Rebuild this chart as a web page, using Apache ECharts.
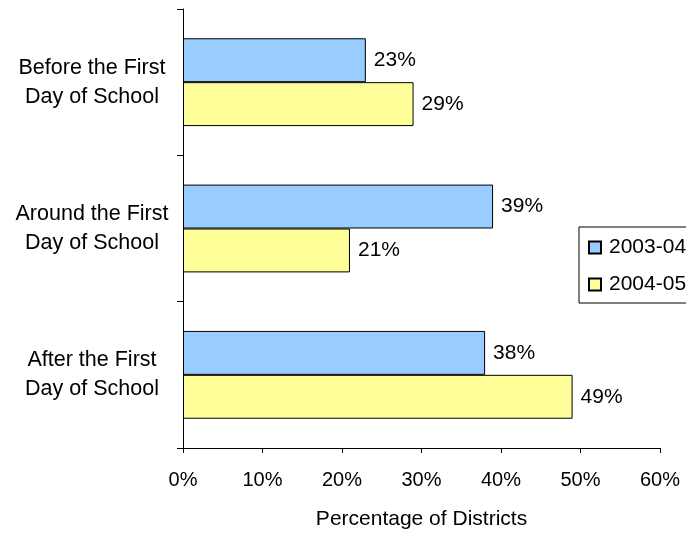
<!DOCTYPE html>
<html>
<head>
<meta charset="utf-8">
<script src="https://cdn.jsdelivr.net/npm/echarts@6/dist/echarts.min.js"></script>
<style>
html,body{margin:0;padding:0;background:#fff;}
#chart{width:686px;height:535px;}
</style>
</head>
<body>
<div id="chart"></div>
<script>
const categories = ['Before the First\nDay of School', 'Around the First\nDay of School', 'After the First\nDay of School'];
const seriesNames = ['2003-04', '2004-05'];
const values2003 = [23, 39, 38];
const values2004 = [29, 21, 49];
const axisTitle = 'Percentage of Districts';

const FONT = '"Liberation Sans", Arial, sans-serif';
const chart = echarts.init(document.getElementById('chart'), null, {renderer: 'canvas'});
const labelCfg = {
  show: true, position: 'right', distance: 8, formatter: '{c}%',
  color: '#000', fontSize: 21, fontFamily: FONT
};
chart.setOption({
  animation: false,
  backgroundColor: '#fff',
  textStyle: {fontFamily: FONT},
  grid: {left: 183, right: 26, top: 9, bottom: 84, containLabel: false},
  legend: {
    orient: 'vertical', left: 579, top: 227,
    padding: [10, 12, 8, 9], itemGap: 16, itemWidth: 12, itemHeight: 12,
    borderColor: '#000', borderWidth: 1, backgroundColor: '#fff',
    icon: 'rect',
    textStyle: {fontSize: 21, color: '#000', fontFamily: FONT, padding: [0, 0, 0, 3]},
    data: seriesNames
  },
  xAxis: {
    type: 'value', min: 0, max: 60, interval: 10,
    name: axisTitle, nameLocation: 'middle', nameGap: 61,
    nameTextStyle: {fontSize: 21, color: '#000', fontFamily: FONT},
    axisLine: {show: true, lineStyle: {color: '#000', width: 1}},
    axisTick: {show: true, length: 5, lineStyle: {color: '#000'}},
    axisLabel: {formatter: '{value}%', fontSize: 20, color: '#000', margin: 22, fontFamily: FONT},
    splitLine: {show: false}
  },
  yAxis: {
    type: 'category', inverse: true, data: categories,
    axisLine: {show: true, lineStyle: {color: '#000', width: 1}},
    axisTick: {show: true, length: 6, lineStyle: {color: '#000'}},
    axisLabel: {fontSize: 21.5, lineHeight: 29, color: '#000', align: 'center', margin: 91, fontFamily: FONT}
  },
  series: [
    {
      name: seriesNames[0], type: 'bar', data: values2003,
      barGap: '0%', barCategoryGap: '40%',
      itemStyle: {color: '#99CCFF', borderColor: '#000', borderWidth: 1},
      label: labelCfg
    },
    {
      name: seriesNames[1], type: 'bar', data: values2004,
      barGap: '0%', barCategoryGap: '40%',
      itemStyle: {color: '#FFFF99', borderColor: '#000', borderWidth: 1},
      label: labelCfg
    }
  ]
});
</script>
</body>
</html>
